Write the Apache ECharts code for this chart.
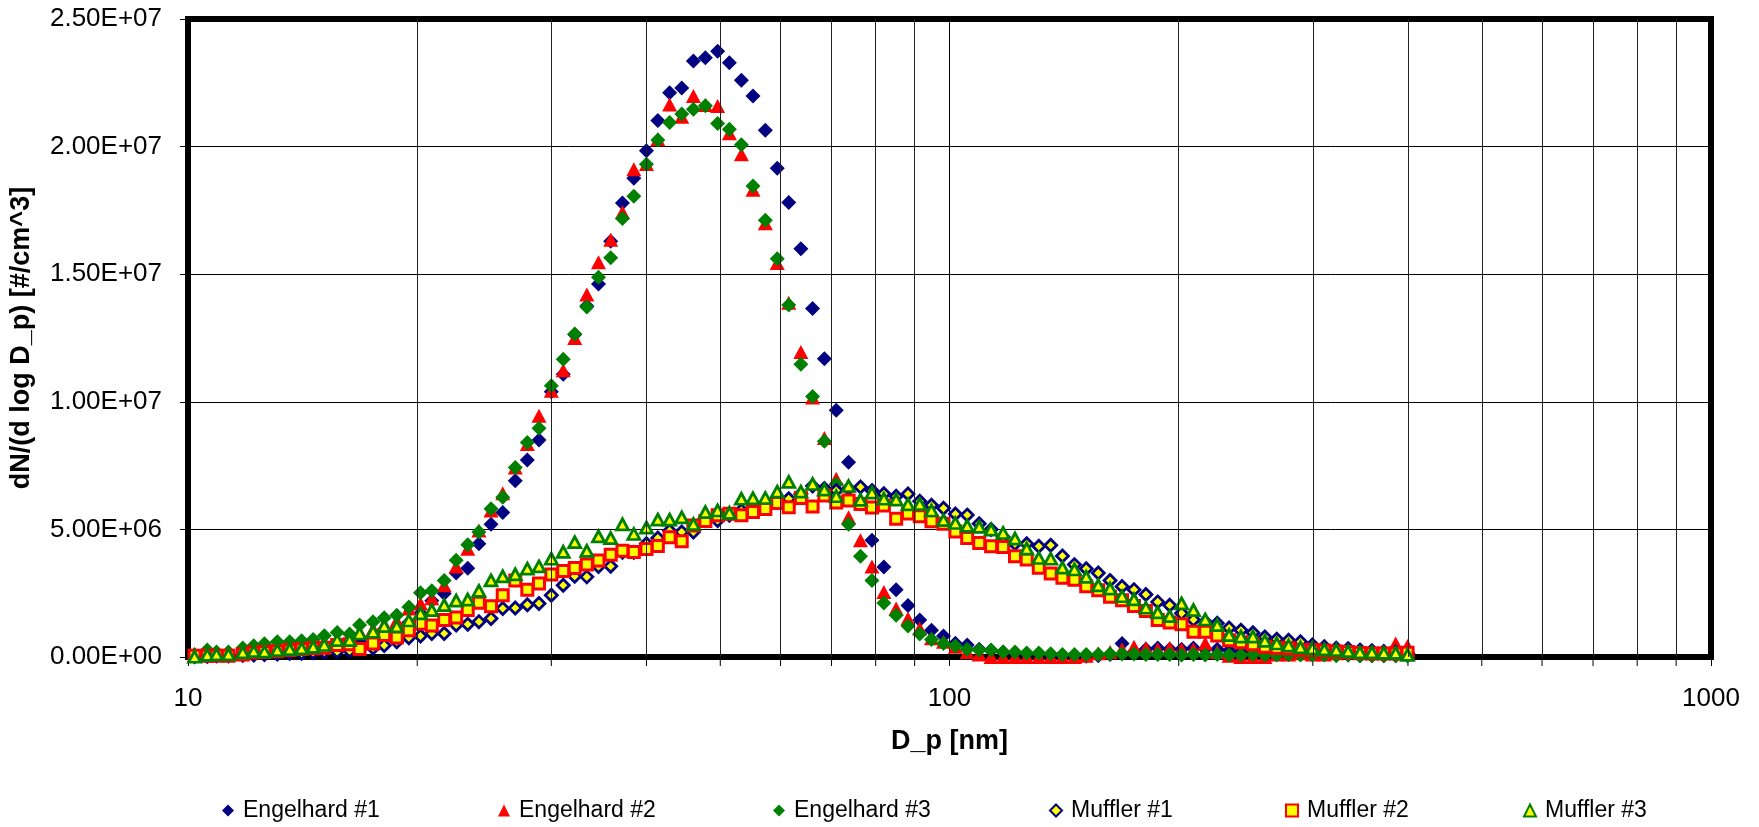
<!DOCTYPE html>
<html>
<head>
<meta charset="utf-8">
<script src="https://cdn.jsdelivr.net/npm/echarts@6/dist/echarts.min.js"></script>
<style>
html,body{margin:0;padding:0;background:#fff;}
#chart{width:1759px;height:827px;}
</style>
</head>
<body>
<div id="chart"></div>
<script>
// Particle diameter channels [nm]
const diameters = [10.2,10.6,10.9,11.3,11.8,12.2,12.6,13.1,13.6,14.1,14.6,15.1,15.7,16.3,16.8,17.5,18.1,18.8,19.5,
20.2,20.9,21.7,22.5,23.3,24.1,25.0,25.9,26.9,27.9,28.9,30.0,31.1,32.2,33.4,34.6,35.9,37.2,38.5,
40.0,41.4,42.9,44.5,46.1,47.8,49.6,51.4,53.3,55.2,57.3,59.4,61.5,63.8,66.1,68.5,71.0,73.7,76.4,79.1,82.0,85.1,88.2,91.4,94.7,98.2,
101.8,105.5,109.4,113.4,117.6,121.9,126.3,131.0,135.8,140.7,145.9,151.2,156.8,162.5,168.5,174.7,181.1,187.7,194.6,201.7,209.1,216.7,224.7,232.9,241.4,250.3,259.5,269.0,278.8,289.0,299.6,310.6,322.0,333.8,346.0,358.7,371.8,385.4,399.5];

// dN/dlogDp values, in millions of #/cm^3
const engelhard1 = [0.05,0.05,0.08,0.1,0.12,0.15,0.2,0.22,0.28,0.3,
0.35,0.4,0.45,0.55,0.6,0.75,0.9,1.1,1.35,1.7,
2.2,2.49,3.29,3.48,4.44,5.2,5.66,6.91,7.72,8.5,
10.39,11.08,12.64,13.75,14.62,16.29,17.79,18.76,19.84,21.02,
22.11,22.3,23.35,23.48,23.74,23.29,22.6,21.98,20.64,19.15,
17.81,16.0,13.66,11.69,9.67,7.63,6.0,4.57,3.53,2.64,
2.02,1.45,1.05,0.82,0.54,0.47,0.3,0.25,0.2,0.15,
0.12,0.1,0.08,0.05,0.05,0.03,0.05,0.1,0.53,0.2,
0.3,0.35,0.3,0.3,0.35,0.3,0.3,0.25,0.2,0.2,
0.15,0.15,0.1,0.1,0.1,0.1,0.08,0.08,0.05,0.05,
0.05,0.05,0.05];

const engelhard2 = [0.05,0.1,0.1,0.1,0.15,0.25,0.3,0.35,0.4,0.45,
0.5,0.6,0.7,0.75,0.99,1.1,1.3,1.42,1.9,2.1,
2.3,2.81,3.55,4.24,4.96,5.74,6.42,7.43,8.35,9.45,
10.43,11.24,12.5,14.2,15.47,16.35,17.43,19.11,19.32,20.29,
21.65,21.17,21.98,21.63,21.59,20.52,19.7,18.31,17.0,15.44,
13.88,11.95,10.17,8.58,6.98,5.48,4.57,3.55,2.55,1.9,
1.51,1.12,0.73,0.6,0.4,0.2,0.1,0,0,0,
0,0,0,0,0,0.05,0.15,0.2,0.3,0.4,
0.35,0.3,0.35,0.3,0.3,0.53,0.2,0.05,0,0,
0,0.1,0.1,0.15,0.1,0.1,0.15,0.2,0.15,0.2,
0.2,0.53,0.43];

const engelhard3 = [0.1,0.27,0.2,0.2,0.35,0.44,0.52,0.6,0.6,0.64,
0.69,0.83,0.96,0.9,1.25,1.38,1.54,1.64,1.96,2.52,
2.6,3.0,3.79,4.4,4.9,5.81,6.26,7.43,8.41,8.96,
10.63,11.67,12.66,13.71,14.88,15.64,17.18,18.05,19.31,20.26,
20.94,21.28,21.46,21.6,20.91,20.68,20.07,18.46,17.11,15.61,
13.79,11.47,10.21,8.45,6.78,5.2,3.95,3.0,2.12,1.64,
1.21,0.9,0.69,0.53,0.43,0.3,0.27,0.27,0.2,0.2,
0.16,0.16,0.13,0.1,0.1,0.1,0.1,0.12,0.12,0.12,
0.1,0.1,0.1,0.08,0.1,0.08,0.1,0.08,0.08,0.1,
0.08,0.08,0.1,0.08,0.08,0.08,0.05,0.08,0.05,0.05,
0.05,0.05,0.05];

const muffler1 = [0.02,0.03,0.05,0.05,0.07,0.08,0.1,0.12,0.15,0.15,
0.18,0.2,0.22,0.25,0.3,0.35,0.45,0.6,0.75,0.82,
0.92,0.92,1.25,1.28,1.38,1.51,1.9,1.92,2.05,2.1,
2.42,2.81,3.16,3.14,3.55,3.56,4.1,4.1,4.44,4.66,
4.95,4.9,4.9,5.35,5.35,5.55,5.74,5.8,6.0,6.2,
6.2,6.39,6.7,6.6,6.52,6.6,6.66,6.52,6.4,6.3,
6.39,6.1,5.95,5.83,5.6,5.56,5.22,5.0,4.7,4.44,
4.44,4.34,4.38,3.96,3.62,3.46,3.29,3.0,2.76,2.64,
2.45,2.16,2.03,1.71,1.46,1.38,1.32,1.14,1.05,0.95,
0.78,0.7,0.66,0.6,0.47,0.4,0.34,0.32,0.27,0.25,
0.22,0.2,0.14];

const muffler2 = [0.05,0.05,0.05,0.05,0.1,0.18,0.2,0.23,0.27,0.31,
0.34,0.36,0.47,0.5,0.31,0.53,0.86,0.76,1.05,1.3,
1.23,1.45,1.55,1.84,2.13,1.99,2.42,3.0,2.64,2.88,
3.23,3.37,3.49,3.62,3.78,4.01,4.16,4.11,4.23,4.35,
4.69,4.54,5.15,5.33,5.55,5.61,5.55,5.68,5.8,6.03,
5.87,6.23,5.9,6.33,6.05,6.13,6.0,5.86,5.94,5.42,
5.62,5.52,5.32,5.22,4.92,4.66,4.47,4.34,4.31,3.95,
3.82,3.5,3.27,3.11,3.03,2.77,2.62,2.36,2.22,2.0,
1.8,1.45,1.35,1.28,0.99,0.99,0.84,0.66,0.58,0.5,
0.4,0.36,0.34,0.27,0.27,0.25,0.22,0.2,0.16,0.14,
0.14,0.14,0.17];

const muffler3 = [0.01,0.08,0.1,0.1,0.18,0.23,0.21,0.27,0.31,0.34,
0.4,0.47,0.66,0.66,0.92,0.99,1.21,1.2,1.43,1.71,
1.84,2.03,2.21,2.25,2.59,3.0,3.16,3.24,3.46,3.55,
3.85,4.12,4.5,4.16,4.73,4.66,5.2,4.82,5.07,5.38,
5.38,5.47,5.21,5.68,5.74,5.65,6.2,6.22,6.23,6.48,
6.86,6.48,6.78,6.56,6.3,6.7,6.16,6.44,6.2,6.17,
5.98,5.99,5.74,5.36,5.25,5.14,5.1,4.99,4.86,4.64,
4.25,3.88,3.85,3.5,3.43,3.14,2.81,2.68,2.38,2.26,
1.93,1.75,1.6,2.1,1.84,1.47,1.25,0.86,0.8,0.8,
0.63,0.53,0.45,0.38,0.34,0.3,0.27,0.23,0.18,0.18,
0.16,0.16,0.08];

const UNIT = 1e6;
const yTicks = {min: 0, max: 2.5e7, interval: 5e6};
const xRange = {min: 10, max: 1000};
const minorGrid = [20,30,40,50,60,70,80,90,200,300,400,500,600,700,800,900];

function pairs(arr){ return arr.map((v,i)=>[diameters[i], v*UNIT]); }
function sci(v){
  if (v === 0) return '0.00E+00';
  const e = Math.floor(Math.log10(Math.abs(v)) + 1e-9);
  const m = v / Math.pow(10, e);
  return m.toFixed(2) + 'E' + (e >= 0 ? '+' : '-') + String(Math.abs(e)).padStart(2, '0');
}

const FONT = 'Liberation Sans';
const seriesDefs = [
  {name:'Engelhard #1', data:engelhard1, symbol:'diamond', size:[15,15], style:{color:'#000080'}},
  {name:'Engelhard #2', data:engelhard2, symbol:'triangle', size:[15,14], style:{color:'#FF0000'}},
  {name:'Engelhard #3', data:engelhard3, symbol:'diamond', size:[15,15], style:{color:'#008000'}},
  {name:'Muffler #1', data:muffler1, symbol:'diamond', size:[12,12], style:{color:'#FFFF00', borderColor:'#000080', borderWidth:2.8}},
  {name:'Muffler #2', data:muffler2, symbol:'rect', size:[11,11], style:{color:'#FFFF00', borderColor:'#FF0000', borderWidth:3}},
  {name:'Muffler #3', data:muffler3, symbol:'triangle', size:[12,11], style:{color:'#FFFF00', borderColor:'#008000', borderWidth:2.8}}
];

const series = [{
  type:'scatter', name:'_grid', data:[], silent:true, z:1,
  markLine:{silent:true, symbol:'none', animation:false, label:{show:false},
    lineStyle:{color:'#222', width:1, type:'solid'},
    data: minorGrid.map(v=>({xAxis:v}))}
}].concat(seriesDefs.map(s=>({
  type:'scatter', name:s.name, data:pairs(s.data), symbol:s.symbol, symbolSize:s.size,
  itemStyle:Object.assign({opacity:1}, s.style), z:3, animation:false
})));

const legendLefts = [217, 493, 768, 1044, 1280, 1518];
const legends = seriesDefs.map((s,i)=>({
  data:[s.name], left:legendLefts[i], top:794, itemWidth:12, itemHeight:12, itemGap:0,
  textStyle:{fontFamily:FONT, fontSize:23, color:'#000', padding:[0,0,0,4]}
}));

const chart = echarts.init(document.getElementById('chart'), null, {renderer:'canvas'});
chart.setOption({
  backgroundColor:'#fff',
  animation:false,
  grid:{left:187, right:48, top:19, bottom:170, show:true, borderColor:'#000', borderWidth:6, backgroundColor:'transparent'},
  legend:legends,
  xAxis:{type:'log', logBase:10, min:xRange.min, max:xRange.max,
    name:'D_p [nm]', nameLocation:'middle', nameGap:71,
    nameTextStyle:{fontFamily:FONT, fontSize:27, fontWeight:'bold', color:'#000'},
    axisLine:{show:false}, axisTick:{show:true, length:9, lineStyle:{color:'#000'}},
    axisLabel:{fontFamily:FONT, fontSize:26, color:'#000', margin:29, formatter:(v)=>String(v)},
    splitLine:{show:true, lineStyle:{color:'#000', width:1}}
  },
  yAxis:{type:'value', min:yTicks.min, max:yTicks.max, interval:yTicks.interval,
    name:'dN/(d log D_p) [#/cm^3]', nameLocation:'middle', nameGap:153,
    nameTextStyle:{fontFamily:FONT, fontSize:27, fontWeight:'bold', color:'#000'},
    axisLine:{show:false}, axisTick:{show:true, length:8, lineStyle:{color:'#000'}},
    axisLabel:{fontFamily:FONT, fontSize:26, color:'#000', margin:26, formatter:sci},
    splitLine:{show:true, lineStyle:{color:'#000', width:1}}
  },
  series:series
});

// minor x-axis tick marks, positioned through the axis scale
const minorTicks = minorGrid.map(v=>{
  const p = chart.convertToPixel({xAxisIndex:0, yAxisIndex:0}, [v, 0]);
  return {type:'line', silent:true, z:0, shape:{x1:p[0], y1:p[1]+3, x2:p[0], y2:p[1]+9}, style:{stroke:'#000', lineWidth:1}};
});
chart.setOption({graphic: minorTicks});
</script>
</body>
</html>
